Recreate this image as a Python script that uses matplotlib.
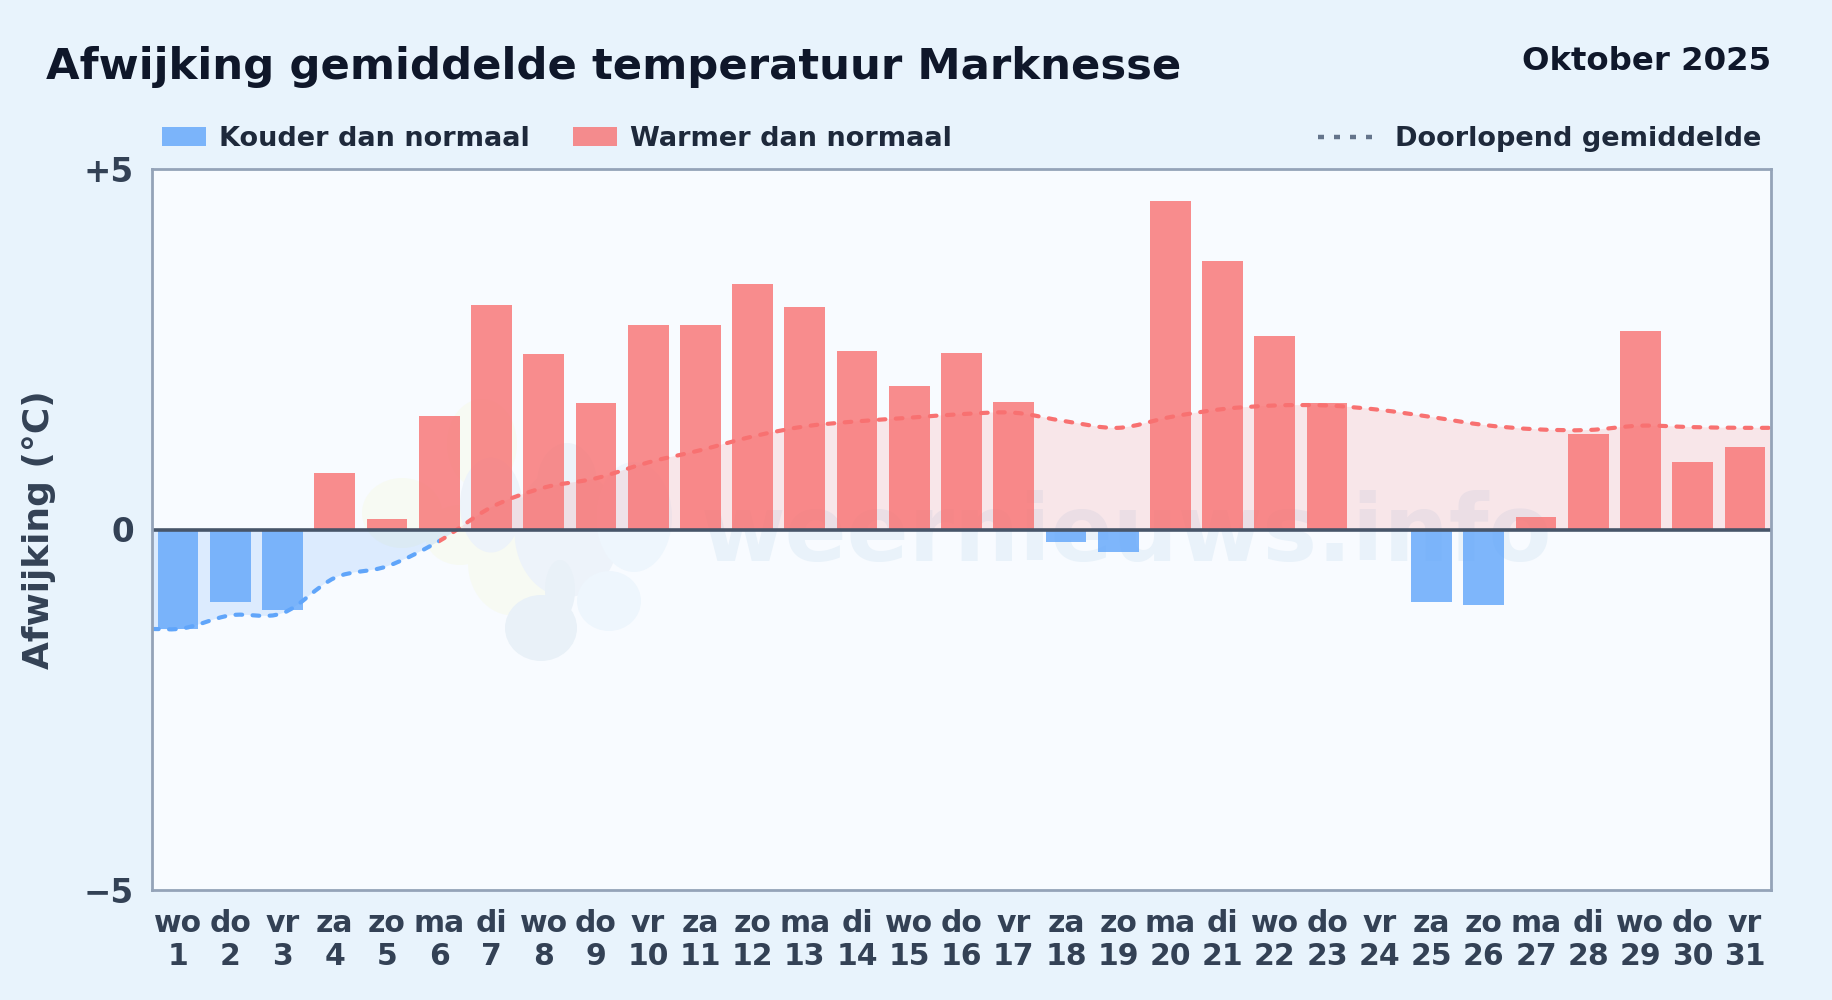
import numpy as np
import matplotlib
matplotlib.use('Agg')
import matplotlib.pyplot as plt
from matplotlib.patches import Rectangle, Ellipse, PathPatch
from matplotlib.path import Path

# ===== DATA =====
days = list(range(1, 32))
weekdays = ['wo', 'do', 'vr', 'za', 'zo', 'ma', 'di', 'wo', 'do', 'vr', 'za', 'zo', 'ma', 'di', 'wo', 'do',
            'vr', 'za', 'zo', 'ma', 'di', 'wo', 'do', 'vr', 'za', 'zo', 'ma', 'di', 'wo', 'do', 'vr']
anomaly = [-1.38, -1.0, -1.11, 0.79, 0.14, 1.58, 3.12, 2.44, 1.76, 2.84, 2.84, 3.41, 3.09, 2.47, 1.99, 2.45,
           1.77, -0.18, -0.31, 4.55, 3.73, 2.69, 1.76, 0.0, -1.0, -1.05, 0.18, 1.33, 2.76, 0.94, 1.15]
running_mean = [-1.38, -1.19, -1.16, -0.67, -0.51, -0.16, 0.31, 0.58, 0.71, 0.93, 1.10, 1.29, 1.43, 1.50, 1.55, 1.60,
                1.62, 1.50, 1.41, 1.56, 1.67, 1.72, 1.72, 1.66, 1.56, 1.45, 1.39, 1.38, 1.44, 1.42, 1.41]
y_ticks = [-5, 0, 5]
y_tick_labels = ['\u22125', '0', '+5']

BG = '#e8f3fc'
PLOT_BG = '#f8fbff'
BLUE = '#60a5fa'
RED = '#f87171'
DARK = '#0f172a'
TEXT = '#1e293b'
TICK = '#334155'
W, H = 1832, 1000
AX_LEFT, AX_RIGHT, AX_TOP, AX_BOTTOM = 152, 1771, 169, 890

# watermark logo blobs: centre x, centre y, width, height in picture pixels
LOGO = [(402, 513, 80, 70, '#f7faf3'), (482, 444, 70, 90, '#f7faf3'), (513, 563, 90, 105, '#f7faf3'),
        (460, 535, 70, 60, '#f7faf3'),
        (491, 505, 62, 95, '#edf3fa'), (567, 532, 105, 130, '#edf3fa'), (567, 483, 60, 80, '#edf3fa'),
        (541, 628, 72, 66, '#e9f1f8'), (560, 590, 30, 60, '#e9f1f8'),
        (634, 517, 76, 110, '#eef6fd'), (609, 601, 64, 60, '#eef6fd')]


def fx(x):
    return x / W


def fy(y):
    return 1 - y / H


def smooth_path(xs, ys):
    """Bezier through the points, so the line looks like the smoothed original"""
    xs = np.asarray(xs, float)
    ys = np.asarray(ys, float)
    slopes = np.gradient(ys, xs)
    verts = [(xs[0], ys[0])]
    codes = [Path.MOVETO]
    for i in range(len(xs) - 1):
        dx = (xs[i + 1] - xs[i]) / 3
        verts += [(xs[i] + dx, ys[i] + slopes[i] * dx),
                  (xs[i + 1] - dx, ys[i + 1] - slopes[i + 1] * dx),
                  (xs[i + 1], ys[i + 1])]
        codes += [Path.CURVE4] * 3
    return verts, codes


def main():
    fig = plt.figure(figsize=(W / 100, H / 100), dpi=100, facecolor=BG)
    ax_w = AX_RIGHT - AX_LEFT
    ax_h = AX_BOTTOM - AX_TOP
    ax = fig.add_axes([fx(AX_LEFT), fy(AX_BOTTOM), ax_w / W, ax_h / H], facecolor=PLOT_BG)

    # watermark behind everything
    for (cx, cy, ew, eh, col) in LOGO:
        ax.add_patch(Ellipse(((cx - AX_LEFT) / ax_w, (AX_BOTTOM - cy) / ax_h), ew / ax_w, eh / ax_h,
                             transform=ax.transAxes, facecolor=col, edgecolor='none', zorder=0.5))
    ax.text(0.602, 0.493, 'weernieuws.info', transform=ax.transAxes, ha='center', va='center', fontsize=66,
            fontweight='bold', color='#e9f2fa', zorder=0.7)

    # running mean: fill to zero and dotted line, blue below zero, red above
    xs = [0.5] + days + [31.5]
    ys = [running_mean[0]] + running_mean + [running_mean[-1]]
    verts, codes = smooth_path(xs, ys)
    fill_verts = verts + [(31.5, 0), (0.5, 0), verts[0]]
    fill_codes = codes + [Path.LINETO, Path.LINETO, Path.CLOSEPOLY]

    pos_clip = Rectangle((0.5, 0), 31, 5, transform=ax.transData)
    neg_clip = Rectangle((0.5, -5), 31, 5, transform=ax.transData)
    for col, alpha, clip in [(RED, 0.15, pos_clip), (BLUE, 0.18, neg_clip)]:
        patch = PathPatch(Path(fill_verts, fill_codes), facecolor=col, alpha=alpha, edgecolor='none', zorder=1)
        ax.add_patch(patch)
        patch.set_clip_path(clip)

    colors = [BLUE if v < 0 else RED for v in anomaly]
    ax.bar(days, anomaly, width=0.78, color=colors, alpha=0.8, zorder=2)

    # the line changes colour at day 6, just before it crosses zero
    blue_part = Rectangle((0.5, -5), 5.5, 10, transform=ax.transData)
    red_part = Rectangle((6, -5), 25.5, 10, transform=ax.transData)
    for col, clip in [(RED, red_part), (BLUE, blue_part)]:
        patch = PathPatch(Path(verts, codes), facecolor='none', edgecolor=col, linewidth=3,
                          linestyle=(0, (1.6, 2.5)), capstyle='round', zorder=3)
        ax.add_patch(patch)
        patch.set_clip_path(clip)

    ax.axhline(0, color='#475569', linewidth=2.6, zorder=4)

    ax.set_xlim(0.5, 31.5)
    ax.set_ylim(-5, 5)
    ax.set_yticks(y_ticks)
    ax.set_yticklabels(y_tick_labels, fontsize=23.5, fontweight='bold', color=TICK)
    ax.set_xticks(days)
    ax.set_xticklabels(['%s\n%d' % (w, d) for w, d in zip(weekdays, days)], fontsize=21.5, fontweight='bold',
                       color=TICK, linespacing=1.15)
    ax.tick_params(axis='both', length=0)
    ax.tick_params(axis='x', pad=14)
    ax.tick_params(axis='y', pad=13)
    for spine in ax.spines.values():
        spine.set_color('#94a3b8')
        spine.set_linewidth(2)
        spine.set_zorder(5)

    fig.text(fx(39), fy(530), 'Afwijking (\u00b0C)', rotation=90, ha='center', va='center', fontsize=25.9,
             fontweight='bold', color=TICK)

    # title and month
    fig.text(fx(46), fy(67), 'Afwijking gemiddelde temperatuur Marknesse', ha='left', va='center', fontsize=31.25,
             fontweight='bold', color=DARK)
    fig.text(fx(1771), fy(61), 'Oktober 2025', ha='right', va='center', fontsize=23.3, fontweight='bold', color=DARK)

    # legend, placed by hand
    fig.add_artist(Rectangle((fx(162), fy(146)), 44 / W, 19 / H, transform=fig.transFigure, facecolor=BLUE,
                             alpha=0.8, edgecolor='none'))
    fig.text(fx(219), fy(138.5), 'Kouder dan normaal', ha='left', va='center', fontsize=19.5, fontweight='bold',
             color=TEXT)
    fig.add_artist(Rectangle((fx(573), fy(146)), 44 / W, 19 / H, transform=fig.transFigure, facecolor=RED,
                             alpha=0.8, edgecolor='none'))
    fig.text(fx(630), fy(138.5), 'Warmer dan normaal', ha='left', va='center', fontsize=19.5, fontweight='bold',
             color=TEXT)
    fig.add_artist(plt.Line2D([fx(1318), fx(1373)], [fy(137), fy(137)], transform=fig.transFigure, color='#64748b',
                              linewidth=3.2, linestyle=(0, (1.35, 2.25)), dash_capstyle='butt'))
    fig.text(fx(1395), fy(138.5), 'Doorlopend gemiddelde', ha='left', va='center', fontsize=19.5, fontweight='bold',
             color=TEXT)

    fig.savefig('out.png', dpi=100, facecolor=BG)


if __name__ == '__main__':
    main()
